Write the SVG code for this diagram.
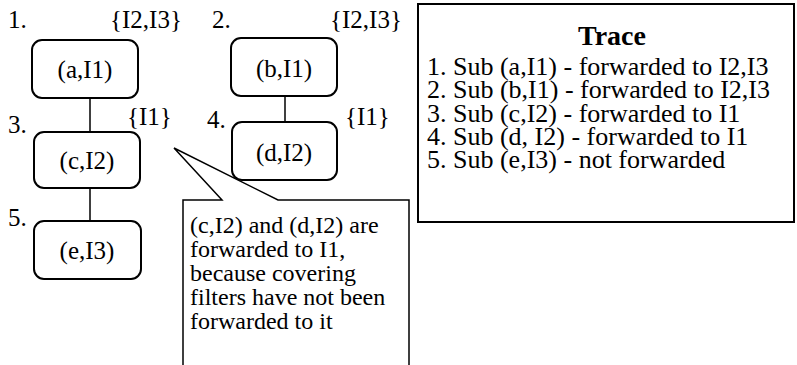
<svg xmlns="http://www.w3.org/2000/svg" width="797" height="365" viewBox="0 0 797 365">
<style>
text{font-family:"Liberation Serif","Times New Roman",serif;font-size:25px;fill:#000}
.node rect{fill:#fff;stroke:#000;stroke-width:2}
.lbl{text-anchor:middle}
.conn line{stroke:#000;stroke-width:1.5}
.title{font-weight:bold;font-size:28px;text-anchor:middle}
.tr{font-size:26px}
.co{font-size:24px}
</style>
<rect width="797" height="365" fill="#fff"/>
<g id="connectors" class="conn">
<line x1="90" y1="98" x2="90" y2="132"/>
<line x1="90" y1="188" x2="90" y2="221"/>
<line x1="285" y1="96" x2="285" y2="122"/>
</g>
<g id="labels">
<text x="8" y="28">1.</text>
<text x="110" y="28">{I2,I3}</text>
<text x="8" y="133">3.</text>
<text x="127" y="125">{I1}</text>
<text x="8" y="226">5.</text>
<text x="212" y="28">2.</text>
<text x="330" y="28">{I2,I3}</text>
<text x="207" y="128">4.</text>
<text x="345" y="125">{I1}</text>
</g>
<g id="node-a" class="node"><rect x="32" y="40" width="106" height="58" rx="10"/><text class="lbl" x="85" y="78">(a,I1)</text></g>
<g id="node-c" class="node"><rect x="34" y="132" width="106" height="56" rx="10"/><text class="lbl" x="87" y="169">(c,I2)</text></g>
<g id="node-e" class="node"><rect x="34" y="221" width="107" height="58" rx="10"/><text class="lbl" x="87" y="259">(e,I3)</text></g>
<g id="node-b" class="node"><rect x="231" y="38" width="106" height="58" rx="10"/><text class="lbl" x="284" y="77">(b,I1)</text></g>
<g id="node-d" class="node"><rect x="232" y="122" width="105" height="58" rx="10"/><text class="lbl" x="284" y="161">(d,I2)</text></g>
<g id="callout">
<path d="M183,367 V200 H222 L174,148 L278,200 H409 V367" fill="#fff" stroke="#000" stroke-width="1.5"/>
<text class="co" x="190" y="233">(c,I2) and (d,I2) are</text>
<text class="co" x="190" y="257">forwarded to I1,</text>
<text class="co" x="190" y="281">because covering</text>
<text class="co" x="190" y="305">filters have not been</text>
<text class="co" x="190" y="329">forwarded to it</text>
</g>
<g id="trace">
<rect x="418" y="4" width="376" height="218" fill="#fff" stroke="#000" stroke-width="2"/>
<text class="title" x="612" y="45">Trace</text>
<text class="tr" x="427" y="75">1. Sub (a,I1) - forwarded to I2,I3</text>
<text class="tr" x="427" y="98">2. Sub (b,I1) - forwarded to I2,I3</text>
<text class="tr" x="427" y="122">3. Sub (c,I2) - forwarded to I1</text>
<text class="tr" x="427" y="145">4. Sub (d, I2) - forwarded to I1</text>
<text class="tr" x="427" y="168">5. Sub (e,I3) - not forwarded</text>
</g>
</svg>
